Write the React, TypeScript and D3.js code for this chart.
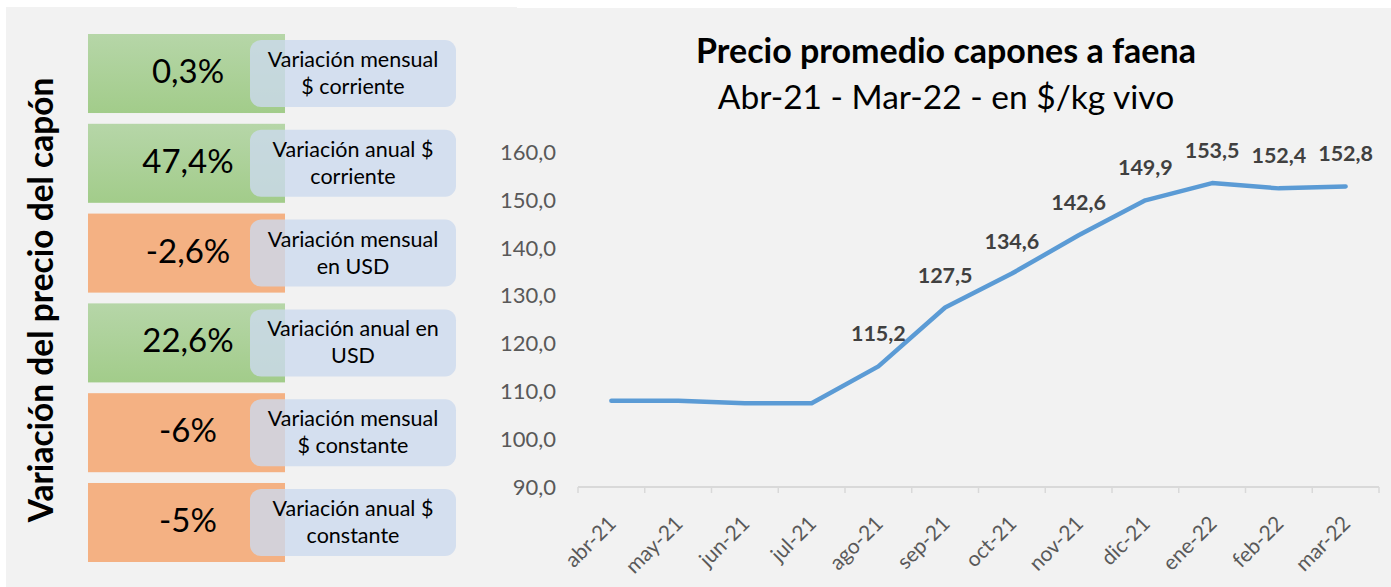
import * as d3 from 'd3';
import React from 'react';

const months = ['abr-21', 'may-21', 'jun-21', 'jul-21', 'ago-21', 'sep-21', 'oct-21', 'nov-21', 'dic-21', 'ene-22', 'feb-22', 'mar-22'];
const prices = [108.0, 108.0, 107.5, 107.5, 115.2, 127.5, 134.6, 142.6, 149.9, 153.5, 152.4, 152.8];
const labelled = [false, false, false, false, true, true, true, true, true, true, true, true];
const yTicks = [90, 100, 110, 120, 130, 140, 150, 160];

const statValues = ['0,3%', '47,4%', '-2,6%', '22,6%', '-6%', '-5%'];
const statLabels = [
  ['Variación mensual', '$ corriente'],
  ['Variación anual $', 'corriente'],
  ['Variación mensual', 'en USD'],
  ['Variación anual en', 'USD'],
  ['Variación mensual', '$ constante'],
  ['Variación anual $', 'constante'],
];

const W = 1391;
const H = 587;
const font = 'Lato, "Open Sans", sans-serif';
const comma = (v: number) => d3.format('.1f')(v).replace('.', ',');

export default function App() {
  const rows = d3.scaleBand<number>()
    .domain(d3.range(statValues.length))
    .range([34, 562])
    .paddingInner(0.12);

  const x = d3.scaleBand<string>().domain(months).range([578, 1379]);
  const y = d3.scaleLinear().domain([90, 160]).range([487, 152]);
  const cx = (m: string) => (x(m) ?? 0) + x.bandwidth() / 2;

  const line = d3.line<number>()
    .x((_, i) => cx(months[i]))
    .y((v) => y(v));

  const tickXs = months.map((m) => x(m) ?? 0).concat([x.range()[1]]);

  return (
    <div style={{ position: 'absolute', left: 0, top: 0 }}>
      <svg width={W} height={H} style={{ display: 'block', fontFamily: font }}>
        <defs>
          <linearGradient id="greenGrad" x1="0" y1="0" x2="0" y2="1">
            <stop offset="0" stopColor="#b6d6a8" />
            <stop offset="1" stopColor="#a2cc8a" />
          </linearGradient>
        </defs>
        <rect width={W} height={H} fill="#ffffff" />
        <rect x={6} y={7} width={511} height={H - 7} fill="#f2f2f2" />
        <rect x={517} y={8} width={W - 517} height={H - 8} fill="#f2f2f2" />

        {/* left panel */}
        <text
          transform="translate(53,300) rotate(-90)"
          textAnchor="middle"
          fontSize={33.5}
          fontWeight={700}
          fill="#000"
        >
          Variación del precio del capón
        </text>

        {statValues.map((v, i) => {
          const top = rows(i) ?? 0;
          const neg = v.startsWith('-');
          return (
            <g key={i}>
              <rect x={88} y={top} width={197} height={rows.bandwidth()} fill={neg ? '#f4b183' : 'url(#greenGrad)'} />
              <text x={188} y={top + 49} textAnchor="middle" fontSize={33} fill="#000">{v}</text>
              <rect x={250} y={top + 6} width={206} height={67} rx={11} fill="#ccdaee" fillOpacity={0.8} />
              {statLabels[i].map((t, j) => (
                <text key={j} x={353} y={top + 33 + j * 27} textAnchor="middle" fontSize={21.5} fill="#000">{t}</text>
              ))}
            </g>
          );
        })}

        {/* right panel */}
        <text x={946} y={63} textAnchor="middle" fontSize={34} fontWeight={700} fill="#000">
          Precio promedio capones a faena
        </text>
        <text x={946} y={109} textAnchor="middle" fontSize={33.5} fill="#000">
          Abr-21 - Mar-22 - en $/kg vivo
        </text>

        {yTicks.map((t) => (
          <text key={t} x={556} y={y(t)} dy="0.36em" textAnchor="end" fontSize={22} fill="#595959">
            {comma(t)}
          </text>
        ))}

        <line x1={x.range()[0]} x2={x.range()[1]} y1={y(90)} y2={y(90)} stroke="#d9d9d9" strokeWidth={2} />
        {tickXs.map((tx, i) => (
          <line key={i} x1={tx} x2={tx} y1={y(90)} y2={y(90) + 6} stroke="#d9d9d9" strokeWidth={1.5} />
        ))}
        {months.map((m) => (
          <text
            key={m}
            transform={`translate(${cx(m) + 6},${y(90) + 38}) rotate(-45)`}
            textAnchor="end"
            fontSize={21}
            fill="#595959"
          >
            {m}
          </text>
        ))}

        <path d={line(prices) ?? ''} fill="none" stroke="#5b9bd5" strokeWidth={4.5} strokeLinejoin="round" strokeLinecap="round" />

        {prices.map((p, i) =>
          labelled[i] ? (
            <text key={i} x={cx(months[i])} y={y(p) - 25} textAnchor="middle" fontSize={21.5} fontWeight={700} fill="#404040">
              {comma(p)}
            </text>
          ) : null
        )}
      </svg>
    </div>
  );
}
